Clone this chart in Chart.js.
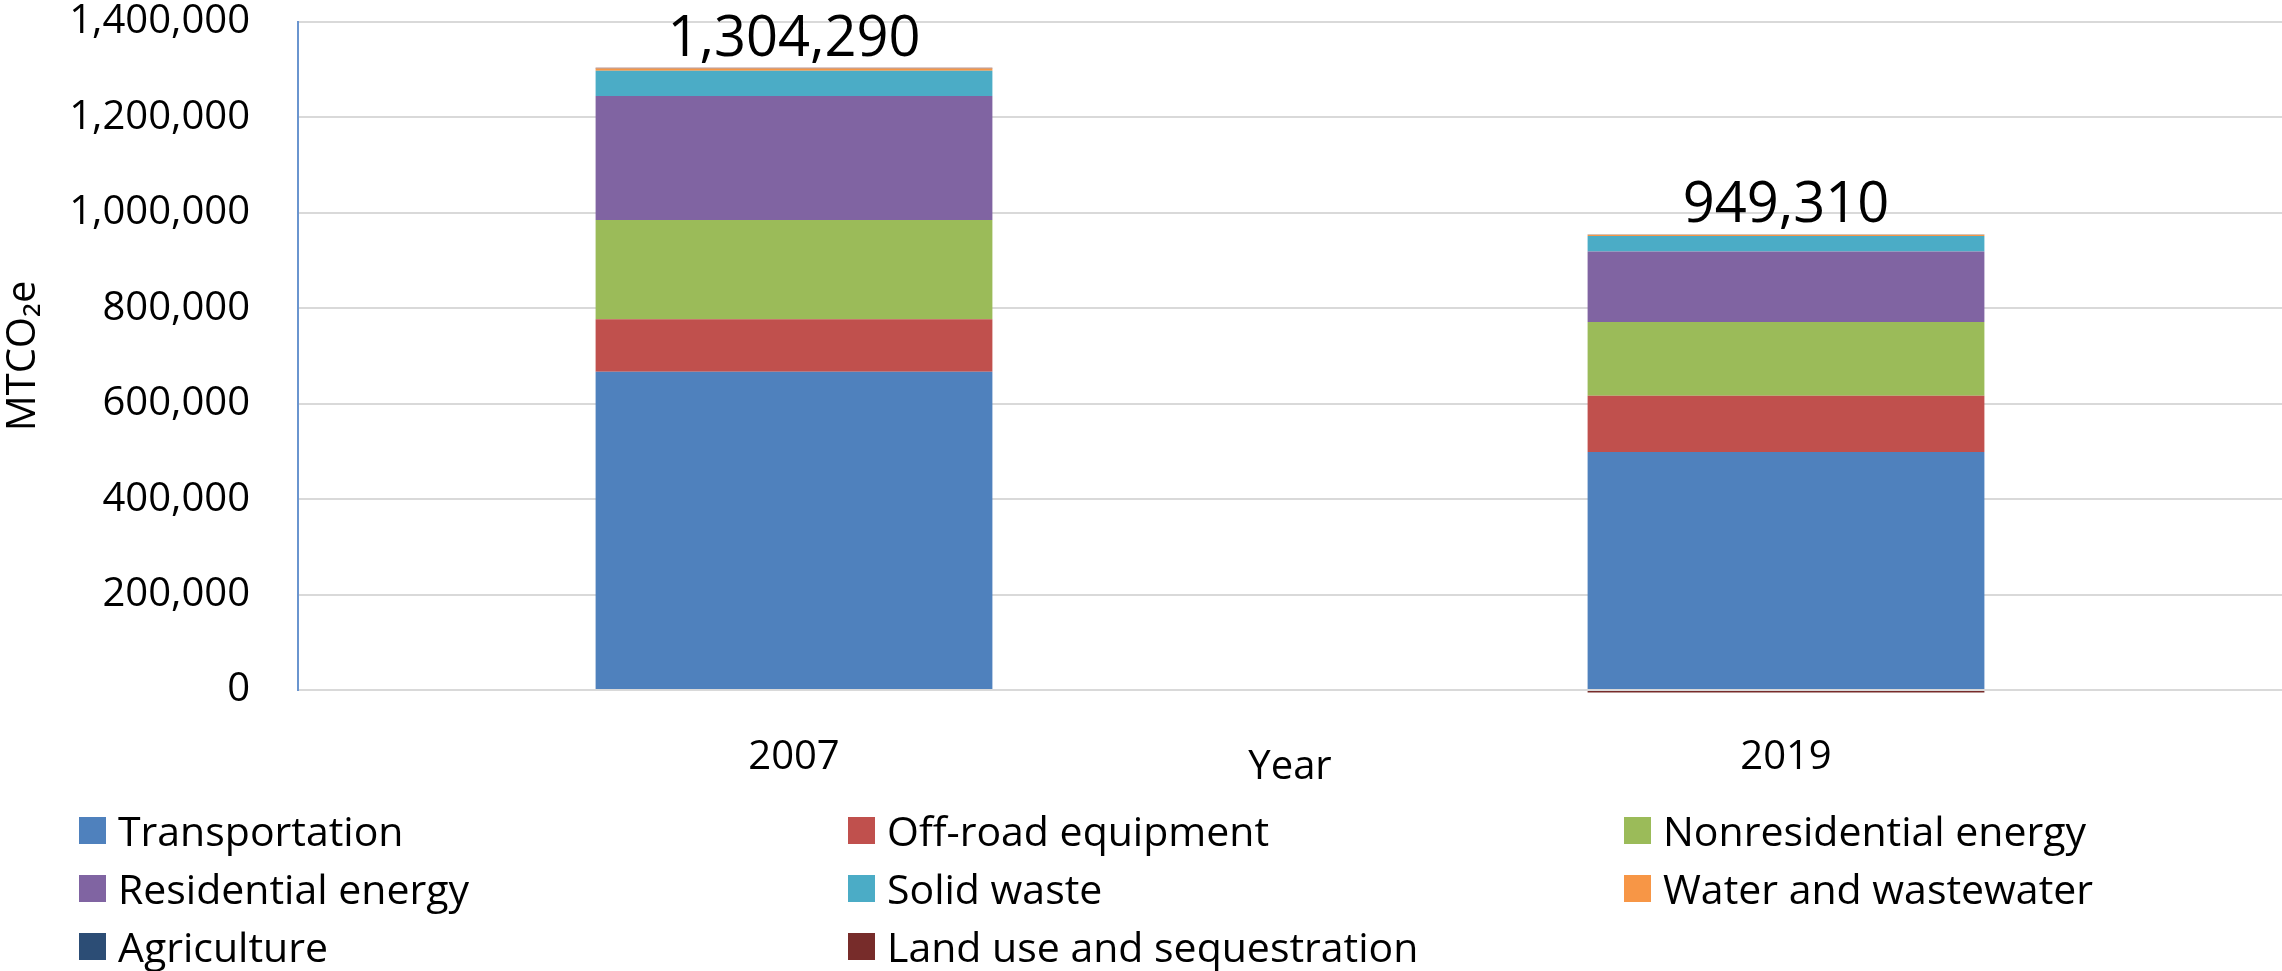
<!DOCTYPE html>
<html>
<head>
<meta charset="utf-8">
<script src="https://cdn.jsdelivr.net/npm/chart.js@4.4.1/dist/chart.umd.min.js"></script>
<style>
  html, body { margin: 0; padding: 0; background: #fff; }
  #wrap { position: relative; width: 2282px; height: 971px; }
  #legend {
    position: absolute; left: 79px; top: 801px;
    display: grid; grid-template-columns: 769px 776px 600px; grid-auto-rows: 58px;
    align-items: center;
    font-family: "Open Sans", "Noto Sans", sans-serif; font-size: 41px; color: #000;
  }
  .item { display: flex; align-items: center; white-space: nowrap; }
  .box { width: 27px; height: 27px; margin-right: 12px; flex: none; }
</style>
</head>
<body>
<div id="wrap">
  <canvas id="chart" width="2282" height="971"></canvas>
  <div id="legend"></div>
</div>
<script>
// categorías y valores (MTCO2e)
const years = ['2007', '2019'];
const sectors = ['Transportation', 'Off-road equipment', 'Nonresidential energy',
  'Residential energy', 'Solid waste', 'Water and wastewater', 'Agriculture',
  'Land use and sequestration'];
const transportation = [667000, 499000];
const offRoad = [110000, 117500];
const nonresidential = [208000, 154500];
const residential = [260000, 148000];
const solidWaste = [53000, 32700];
const water = [4790, 2500];
const agriculture = [500, 500];
const landUse = [1000, -5390];
const totals = [1304290, 949310];
const colors = ['#4F81BD', '#C0504D', '#9BBB59', '#8064A2', '#4BACC6', '#F79646', '#2C4D75', '#772C2A'];

const series = [transportation, offRoad, nonresidential, residential, solidWaste, water, agriculture, landUse];
const FONT = '"Open Sans", "Noto Sans", sans-serif';

// etiqueta de total encima de cada barra
const totalLabels = {
  id: 'totalLabels',
  afterDatasetsDraw(chart) {
    const ctx = chart.ctx;
    const x = chart.scales.x, y = chart.scales.y;
    ctx.save();
    ctx.font = '56px ' + FONT;
    ctx.fillStyle = '#000';
    ctx.textAlign = 'center';
    ctx.textBaseline = 'alphabetic';
    years.forEach((yr, i) => {
      let top = 0;
      series.forEach(s => { if (s[i] > 0) top += s[i]; });
      ctx.fillText(totals[i].toLocaleString('en-US'), x.getPixelForValue(i), y.getPixelForValue(top) - 12);
    });
    ctx.restore();
  }
};

const chart = new Chart(document.getElementById('chart').getContext('2d'), {
  type: 'bar',
  data: {
    labels: years,
    datasets: sectors.map((name, k) => ({
      label: name,
      data: series[k],
      backgroundColor: colors[k],
      borderWidth: 0,
      clip: false,
      categoryPercentage: 1,
      barPercentage: 0.4
    }))
  },
  options: {
    responsive: false,
    animation: false,
    layout: { autoPadding: false, padding: { top: 22, right: 0, left: 0, bottom: 171 } },
    plugins: { legend: { display: false }, tooltip: { enabled: false } },
    scales: {
      x: {
        stacked: true,
        grid: { display: false },
        border: { display: false },
        ticks: { color: '#000', font: { family: FONT, size: 40 }, padding: 36 },
        title: { display: true, text: 'Year', color: '#000', font: { family: FONT, size: 40 }, padding: { top: 0, bottom: 8 } },
        afterFit(s) { s.height = 110; }
      },
      y: {
        stacked: true,
        min: 0,
        max: 1400000,
        ticks: {
          stepSize: 200000,
          color: '#000',
          font: { family: FONT, size: 40 },
          padding: 48,
          callback: v => v.toLocaleString('en-US')
        },
        grid: { color: '#d9d9d9', lineWidth: 2, drawTicks: false },
        border: { color: '#6a95cf', width: 2 },
        title: { display: true, text: 'MTCO₂e', color: '#000', font: { family: FONT, size: 40 }, padding: 0 },
        afterFit(s) { s.width = 298; s.paddingTop = 0; s.paddingBottom = 0; }
      }
    }
  },
  plugins: [totalLabels]
});

// leyenda en tres columnas
const legend = document.getElementById('legend');
chart.data.datasets.forEach(ds => {
  const item = document.createElement('div');
  item.className = 'item';
  const box = document.createElement('span');
  box.className = 'box';
  box.style.background = ds.backgroundColor;
  const txt = document.createElement('span');
  txt.textContent = ds.label;
  item.appendChild(box);
  item.appendChild(txt);
  legend.appendChild(item);
});
</script>
</body>
</html>
